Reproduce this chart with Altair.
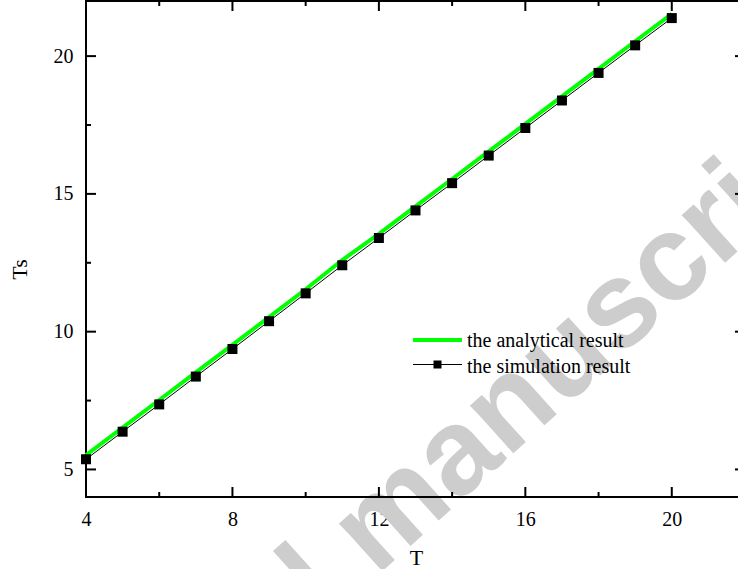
import altair as alt
import pandas as pd

# ---- data ----
T_values = [4, 5, 6, 7, 8, 9, 10, 11, 12, 13, 14, 15, 16, 17, 18, 19, 20]
sim_values = [5.37, 6.37, 7.36, 8.37, 9.37, 10.38, 11.39, 12.41, 13.40, 14.40,
              15.39, 16.39, 17.39, 18.39, 19.39, 20.39, 21.38]
ana_values = [5.52, 6.52, 7.52, 8.52, 9.52, 10.53, 11.54, 12.60, 13.55, 14.55,
              15.54, 16.54, 17.54, 18.54, 19.54, 20.54, 21.53]

x_major = [4, 8, 12, 16, 20]
x_minor = [6, 10, 14, 18]
y_major = [5, 10, 15, 20]
y_minor = [7.5, 12.5, 17.5]
frame_vals = [4, 22]

legend_labels = ["the analytical result", "the simulation result"]
watermark_words = ["Accepted", "manuscript"]

W, H = 652, 496
XR = 659  # pixel position of x = 22 (just beyond the picture's right edge)
SERIF = "Liberation Serif"

xs = alt.Scale(domain=[4, 22], range=[0, XR], nice=False, zero=False)
ys = alt.Scale(domain=[4, 22], nice=False, zero=False)

df = pd.DataFrame({"T": T_values, "sim": sim_values, "ana": ana_values})

xaxis = alt.Axis(values=x_major, ticks=False, tickSize=0, domain=False, grid=False,
                 labelFont=SERIF, labelFontSize=20, labelColor="black",
                 labelPadding=28, labelBaseline="alphabetic", labelFlush=False,
                 labelOverlap=False, format="d",
                 title="T", titleFont=SERIF, titleFontSize=22, titleFontWeight="normal",
                 titleColor="black", titleX=330, titleY=67, titleBaseline="alphabetic",
                 titleAlign="center")
yaxis = alt.Axis(values=y_major, ticks=False, tickSize=0, domain=False, grid=False,
                 labelFont=SERIF, labelFontSize=20, labelColor="black",
                 labelPadding=13, labelAlign="right", labelBaseline="middle",
                 labelOverlap=False, format="d",
                 title="Ts", titleFont=SERIF, titleFontSize=22, titleFontWeight="normal",
                 titleColor="black", titleAngle=270, titleX=-60, titleY=268,
                 titleBaseline="alphabetic", titleAlign="center")

X = lambda f: alt.X(f, scale=xs, axis=xaxis)
Y = lambda f: alt.Y(f, scale=ys, axis=yaxis)

# ---- watermark ----
WM = dict(font="Liberation Sans", fontWeight="bold", fontSize=122, color="#cdcdcd",
          angle=318, baseline="alphabetic")
wm_m = alt.Chart(pd.DataFrame({"t": [watermark_words[1]]})).mark_text(
    align="left", **WM).encode(x=alt.value(290), y=alt.value(576), text="t:N")
wm_a = alt.Chart(pd.DataFrame({"t": [watermark_words[0]]})).mark_text(
    align="right", **WM).encode(x=alt.value(265), y=alt.value(599), text="t:N")

# ---- frame ----
frame_v = alt.Chart(pd.DataFrame({"v": frame_vals})).mark_rule(
    color="black", strokeWidth=2, strokeCap="square"
).encode(x=X("v:Q"), y=alt.value(0), y2=alt.value(H))
frame_h = alt.Chart(pd.DataFrame({"v": frame_vals})).mark_rule(
    color="black", strokeWidth=2, strokeCap="square"
).encode(y=Y("v:Q"), x=alt.value(0), x2=alt.value(XR))

# ---- inward ticks ----
def xticks(vals, length):
    d = pd.DataFrame({"v": vals})
    bottom = alt.Chart(d).mark_tick(color="black", orient="vertical", size=length,
                                    thickness=2, opacity=1).encode(
        x=X("v:Q"), y=alt.value(H - length / 2))
    top = alt.Chart(d).mark_tick(color="black", orient="vertical", size=length,
                                 thickness=2, opacity=1).encode(
        x=X("v:Q"), y=alt.value(length / 2))
    return [bottom, top]

def yticks(vals, length):
    d = pd.DataFrame({"v": vals})
    left = alt.Chart(d).mark_tick(color="black", orient="horizontal", size=length,
                                  thickness=2, opacity=1).encode(
        y=Y("v:Q"), x=alt.value(length / 2))
    right = alt.Chart(d).mark_tick(color="black", orient="horizontal", size=length,
                                   thickness=2, opacity=1).encode(
        y=Y("v:Q"), x=alt.value(XR - length / 2))
    return [left, right]

ticks = xticks(x_major, 10) + xticks(x_minor, 5) + yticks(y_major, 10) + yticks(y_minor, 5)

# ---- data series ----
ana = alt.Chart(df).mark_line(color="#00ff00", strokeWidth=4).encode(
    x=X("T:Q"), y=Y("ana:Q"))
sim_line = alt.Chart(df).mark_line(color="black", strokeWidth=1).encode(
    x=X("T:Q"), y=Y("sim:Q"))
sim_pts = alt.Chart(df).mark_point(shape="square", filled=True, size=100,
                                   color="black", opacity=1).encode(
    x=X("T:Q"), y=Y("sim:Q"))

# ---- legend ----
one = pd.DataFrame({"t": [0]})
leg_g = alt.Chart(one).mark_rule(color="#00ff00", strokeWidth=4).encode(
    x=alt.value(327), x2=alt.value(376), y=alt.value(339))
leg_k = alt.Chart(one).mark_rule(color="black", strokeWidth=1).encode(
    x=alt.value(327), x2=alt.value(376), y=alt.value(363.5))
leg_p = alt.Chart(one).mark_point(shape="square", filled=True, size=64,
                                  color="black", opacity=1).encode(
    x=alt.value(351.5), y=alt.value(363.5))
leg_t1 = alt.Chart(pd.DataFrame({"t": [legend_labels[0]]})).mark_text(
    font=SERIF, fontSize=20, color="black", align="left", baseline="alphabetic"
).encode(x=alt.value(381), y=alt.value(346), text="t:N")
leg_t2 = alt.Chart(pd.DataFrame({"t": [legend_labels[1]]})).mark_text(
    font=SERIF, fontSize=20, color="black", align="left", baseline="alphabetic"
).encode(x=alt.value(381), y=alt.value(372), text="t:N")

chart = alt.layer(
    wm_a, wm_m, frame_v, frame_h, *ticks, ana, sim_line, sim_pts,
    leg_g, leg_k, leg_p, leg_t1, leg_t2
).properties(
    width=W, height=H,
    autosize=alt.AutoSizeParams(type="none"),
    padding={"left": 86, "top": 1, "right": 0, "bottom": 72},
    background="white",
).configure_view(stroke=None).configure_axis(
    labelFont=SERIF, titleFont=SERIF, labelFontSize=20, titleFontSize=22
)

chart.save("out.html", embed_options={"renderer": "svg", "actions": False})
